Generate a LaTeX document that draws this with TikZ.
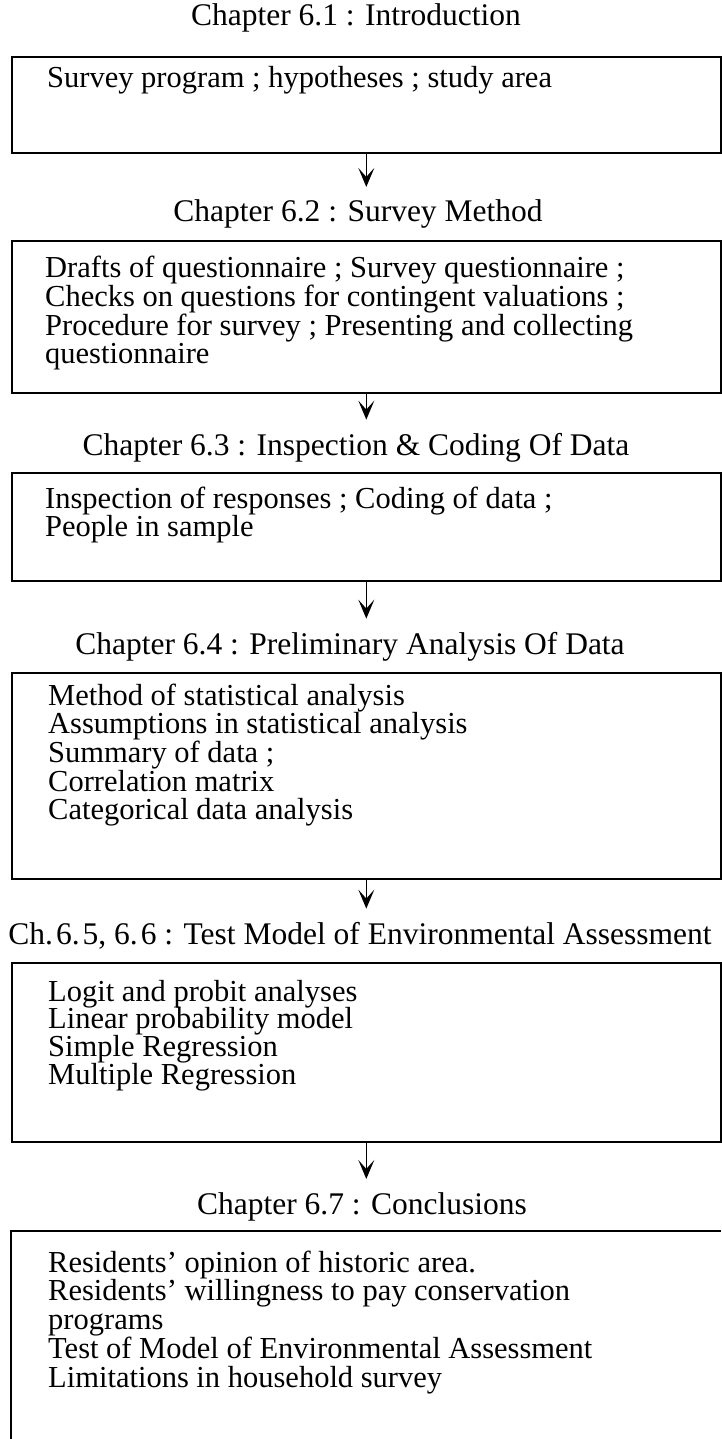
\documentclass[tikz,border=0pt]{standalone}
\usepackage{fontspec}
\setmainfont{Liberation Serif}
\usetikzlibrary{arrows.meta}
\begin{document}
\begin{tikzpicture}[x=1pt,y=-1pt,
  frame/.style={draw, line width=1.6pt, rectangle, inner sep=0pt, anchor=north west, minimum width=709pt},
  heading/.style={font=\fontsize{31.5}{32}\selectfont, inner sep=0pt, anchor=base},
  body/.style={font=\fontsize{30.5}{#1}\selectfont, inner sep=0pt, anchor=base west},
  body/.default=26,
  flow/.style={line width=1.6pt, shorten >=13pt, -{Stealth[length=19pt,width=16pt,inset=9pt]}}]
\useasboundingbox (0,0) rectangle (721,1439);

% chapter headings
\node[heading] (t1) at (356,26)   {Chapter 6.1 : Introduction};
\node[heading] (t2) at (358,222)  {Chapter 6.2 : Survey Method};
\node[heading] (t3) at (356,455)  {Chapter 6.3 : Inspection \& Coding Of Data};
\node[heading] (t4) at (350,654)  {Chapter 6.4 : Preliminary Analysis Of Data};
\node[heading] (t5) at (360,944)  {Ch.\kern3pt6.\kern3pt5, 6.\kern3pt6 : Test Model of Environmental Assessment};
\node[heading] (t6) at (362,1214) {Chapter 6.7 : Conclusions};

% frames
\node[frame, minimum height=96pt]  (b1) at (11,56)  {};
\node[frame, minimum height=152pt] (b2) at (11,240) {};
\node[frame, minimum height=108pt] (b3) at (11,472) {};
\node[frame, minimum height=206pt] (b4) at (11,672) {};
\node[frame, minimum height=179pt] (b5) at (11,962) {};
\node[inner sep=0pt, anchor=north west, minimum width=710pt, minimum height=208pt] (b6) at (11,1231) {};
\draw[line width=1.6pt] (b6.south west) -- (b6.north west) -- (b6.north east);

% contents
\node[body] (c1) at (47,88) {\begin{tabular}[t]{@{}l@{}}
Survey program ; hypotheses ; study area\end{tabular}};
\node[body=26.5] (c2) at (45,277) {\begin{tabular}[t]{@{}l@{}}
Drafts of questionnaire ; Survey questionnaire ;\\
Checks on questions for contingent valuations ;\\
Procedure for survey ; Presenting and collecting\\
questionnaire\end{tabular}};
\node[body=25] (c3) at (45,508) {\begin{tabular}[t]{@{}l@{}}
Inspection of responses ; Coding of data ;\\
People in sample\end{tabular}};
\node[body=25] (c4) at (48,705) {\begin{tabular}[t]{@{}l@{}}
Method of statistical analysis\\
Assumptions in statistical analysis\\
Summary of data ;\\
Correlation matrix\\
Categorical data analysis\end{tabular}};
\node[body=22.5] (c5) at (48,1001) {\begin{tabular}[t]{@{}l@{}}
Logit and probit analyses\\
Linear probability model\\
Simple Regression\\
Multiple Regression\end{tabular}};
\node[body=26] (c6) at (48,1272) {\begin{tabular}[t]{@{}l@{}}
Residents’ opinion of historic area.\\
Residents’ willingness to pay conservation\\[2.5pt]
programs\\
Test of Model of Environmental Assessment\\
Limitations in household survey\end{tabular}};

% flow arrows
\draw[flow] (b1.south) -- (b1.south |- t2.north);
\draw[flow] (b2.south) -- (b2.south |- t3.north);
\draw[flow] (b3.south) -- (b3.south |- t4.north);
\draw[flow] (b4.south) -- (b4.south |- t5.north);
\draw[flow] (b5.south) -- (b5.south |- t6.north);
\end{tikzpicture}
\end{document}
